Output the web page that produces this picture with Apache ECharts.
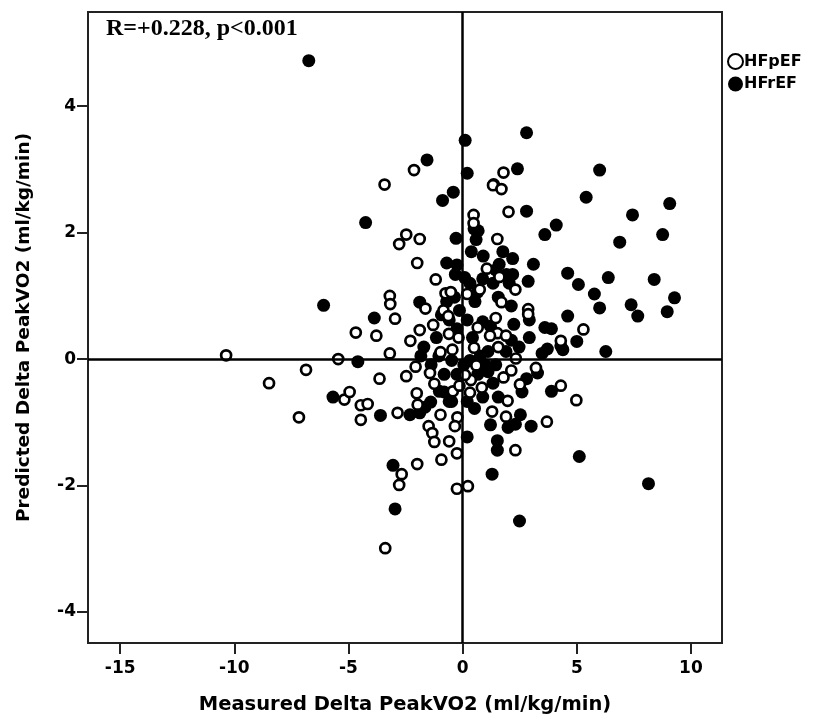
<!DOCTYPE html>
<html>
<head>
<meta charset="utf-8">
<script src="https://cdn.jsdelivr.net/npm/echarts@6/dist/echarts.min.js"></script>
<style>html,body{margin:0;padding:0;background:#fff}#c{width:813px;height:715px}</style>
</head>
<body>
<div id="c"></div>
<script>
var seriesNames = ['HFpEF', 'HFrEF'];
var xTicks = [-15, -10, -5, 0, 5, 10];
var yTicks = [-4, -2, 0, 2, 4];
var annotation = 'R=+0.228, p<0.001';

var hfpefPoints = [
[-10.36,0.06],[-8.48,-0.38],[-7.17,-0.92],[-6.86,-0.17],[-5.45,0.0],[-5.18,-0.64],[-4.95,-0.52],
[-4.68,0.42],[-4.46,-0.73],[-4.46,-0.96],[-4.16,-0.71],[-3.78,0.37],[-3.64,-0.31],[-3.42,2.76],
[-3.39,-2.99],[-3.19,1.0],[-3.17,0.87],[-3.19,0.09],[-2.96,0.64],[-2.85,-0.85],[-2.78,1.82],
[-2.67,-1.82],[-2.78,-1.99],[-2.47,1.97],[-2.47,-0.27],[-2.29,0.29],[-2.13,2.99],[-2.06,-0.12],
[-2.01,-0.54],[-1.99,1.52],[-1.99,-1.66],[-1.88,0.46],[-1.88,1.9],[-1.97,-0.72],[-1.63,0.8],
[-1.49,-1.06],[-1.43,-0.22],[-1.33,-1.17],[-1.24,-1.31],[-1.29,0.54],[-1.24,-0.39],[-1.18,1.26],
[-0.97,0.11],[-0.97,-0.88],[-0.93,-1.59],[-0.84,0.77],[-0.75,1.04],[-0.63,0.68],[-0.59,-1.3],
[-0.52,1.06],[-0.43,-0.51],[-0.25,-1.49],[-0.25,-2.05],[-0.23,-0.92],[-0.34,-1.06],[-0.14,-0.42],
[-0.18,0.34],[0.23,-2.01],[0.48,2.28],[0.48,2.15],[0.2,1.03],[0.32,-0.53],[0.36,-0.33],[0.5,0.18],
[0.66,0.5],[0.84,-0.45],[1.06,1.43],[1.33,2.75],[1.7,2.69],[1.79,2.95],[2.01,2.33],[1.52,1.9],
[1.61,1.3],[1.7,0.9],[1.45,0.65],[1.52,0.41],[1.79,-0.29],[1.97,-0.66],[1.9,-0.91],[1.29,-0.83],
[2.31,1.1],[2.31,-1.44],[2.51,-0.4],[2.87,0.79],[2.87,0.71],[3.21,-0.14],[3.69,-0.99],[4.3,-0.42],
[4.3,0.29],[4.98,-0.65],[5.29,0.47],[1.2,0.37],[1.56,0.19],[2.33,0.01],[2.13,-0.18],[1.9,0.37],
[0.75,1.1],[-0.6,0.4],[0.1,-0.25],[-0.45,0.15],[0.6,-0.1]
];

var hfrefPoints = [
[-6.74,4.72],[0.11,3.46],[2.8,3.58],[-1.56,3.15],[0.2,2.94],[2.4,3.01],[6.0,2.99],[-0.88,2.51],
[-0.41,2.64],[1.36,2.76],[5.41,2.56],[9.07,2.46],[2.8,2.34],[-4.25,2.16],[7.44,2.28],[4.1,2.12],
[3.6,1.97],[8.76,1.97],[6.88,1.85],[-0.29,1.91],[0.5,2.06],[0.68,2.03],[0.59,1.89],[0.38,1.7],
[0.9,1.63],[1.76,1.7],[2.19,1.59],[3.1,1.5],[-0.7,1.52],[-0.25,1.49],[-0.32,1.34],[1.6,1.5],
[1.45,1.41],[2.19,1.34],[4.6,1.36],[6.38,1.29],[8.39,1.26],[2.87,1.23],[5.07,1.18],[5.77,1.03],
[9.28,0.97],[7.38,0.86],[6.0,0.81],[7.67,0.68],[8.96,0.75],[4.6,0.68],[-6.09,0.85],[-3.87,0.65],
[-1.88,0.9],[3.6,0.5],[3.89,0.48],[5.0,0.28],[4.3,0.21],[3.71,0.16],[3.48,0.09],[6.27,0.12],
[4.39,0.15],[-1.7,0.19],[-4.59,-0.04],[-5.68,-0.6],[-3.6,-0.89],[-2.31,-0.88],[-1.65,-0.76],
[-1.4,-0.68],[-1.88,-0.85],[3.89,-0.51],[2.6,-0.52],[3.28,-0.22],[3.0,-1.06],[2.31,-1.03],
[1.22,-1.04],[1.99,-1.08],[1.52,-1.29],[1.52,-1.44],[0.2,-1.23],[0.52,-0.78],[1.29,-1.82],
[5.11,-1.54],[8.14,-1.97],[-3.05,-1.68],[-2.96,-2.37],[2.49,-2.56],[-0.59,-0.67],[-1.02,-0.51],
[0.09,1.29],[0.32,1.2],[0.66,1.06],[0.54,0.91],[0.88,0.59],[1.22,0.52],[1.56,0.98],[2.13,0.84],
[2.24,0.55],[1.9,0.12],[1.45,-0.09],[1.11,-0.2],[0.77,0.05],[0.43,0.34],[0.2,0.62],[-0.25,0.48],
[-0.59,0.62],[-0.93,0.7],[-1.15,0.34],[-0.7,0.91],[-0.36,0.98],[-0.14,0.77],[-0.48,-0.02],
[-0.25,-0.24],[0.05,-0.09],[0.32,-0.02],[0.66,-0.24],[0.99,-0.09],[1.33,-0.38],[1.56,-0.6],
[0.88,-0.6],[0.2,-0.67],[-0.48,-0.67],[-0.81,-0.52],[-0.81,-0.24],[2.53,-0.88],[2.8,-0.31],
[2.47,0.19],[2.92,0.34],[2.13,0.3],[1.11,0.12],[1.33,1.2],[0.88,1.27],[1.92,1.34],[2.04,1.2],
[2.92,0.62],[-1.04,0.05],[-1.38,-0.09],[-1.83,0.05]
];

var chart = echarts.init(document.getElementById('c'), null, {renderer: 'canvas'});
var tickFont = {color: '#000', fontFamily: 'DejaVu Sans', fontWeight: 'bold', fontSize: 17};
function fmt(v) { return String(v); }

chart.setOption({
  animation: false,
  backgroundColor: '#fff',
  grid: {left: 88, right: 91, top: 12, bottom: 72, show: true, borderColor: '#222', borderWidth: 2,
         containLabel: false, outerBoundsMode: 'none'},
  legend: {
    orient: 'vertical', left: 722, top: 48, itemGap: 6, itemWidth: 15, itemHeight: 15,
    icon: 'circle', data: seriesNames,
    textStyle: {color: '#000', fontFamily: 'DejaVu Sans', fontWeight: 'bold', fontSize: 16, padding: [0,0,0,-4]}
  },
  xAxis: {
    type: 'value', min: -16.41, max: 11.36,
    name: 'Measured Delta PeakVO2 (ml/kg/min)', nameLocation: 'middle', nameGap: 52,
    nameTextStyle: {color: '#000', fontFamily: 'DejaVu Sans', fontWeight: 'bold', fontSize: 19.5},
    axisLine: {show: true, onZero: false, lineStyle: {color: '#222', width: 2}},
    axisTick: {show: true, length: 11, lineStyle: {color: '#222', width: 2}, customValues: xTicks},
    axisLabel: Object.assign({margin: 17, customValues: xTicks, formatter: fmt}, tickFont),
    splitLine: {show: false}
  },
  yAxis: {
    type: 'value', min: -4.49, max: 5.49,
    name: 'Predicted Delta PeakVO2 (ml/kg/min)', nameLocation: 'middle', nameGap: 54,
    nameTextStyle: {color: '#000', fontFamily: 'DejaVu Sans', fontWeight: 'bold', fontSize: 18.5},
    axisLine: {show: true, onZero: false, lineStyle: {color: '#222', width: 2}},
    axisTick: {show: true, length: 11, lineStyle: {color: '#222', width: 2}, customValues: yTicks},
    axisLabel: Object.assign({margin: 12, customValues: yTicks, formatter: fmt}, tickFont),
    splitLine: {show: false}
  },
  graphic: [{
    type: 'text', left: 106, top: 17,
    style: {text: annotation, fill: '#000', font: 'bold 24px "Liberation Serif"'}
  }],
  series: [
    {
      name: seriesNames[0], type: 'scatter', data: hfpefPoints, z: 3,
      symbol: 'circle', symbolSize: 10,
      itemStyle: {color: '#fff', borderColor: '#000', borderWidth: 2.7, opacity: 1}
    },
    {
      name: seriesNames[1], type: 'scatter', data: hfrefPoints, z: 2,
      symbol: 'circle', symbolSize: 13,
      itemStyle: {color: '#000', opacity: 1},
      markLine: {
        silent: true, symbol: 'none', z: 10, animation: false,
        label: {show: false},
        lineStyle: {color: '#000', width: 2.5, type: 'solid'},
        data: [{xAxis: 0}, {yAxis: 0}]
      }
    }
  ]
});
</script>
</body>
</html>
